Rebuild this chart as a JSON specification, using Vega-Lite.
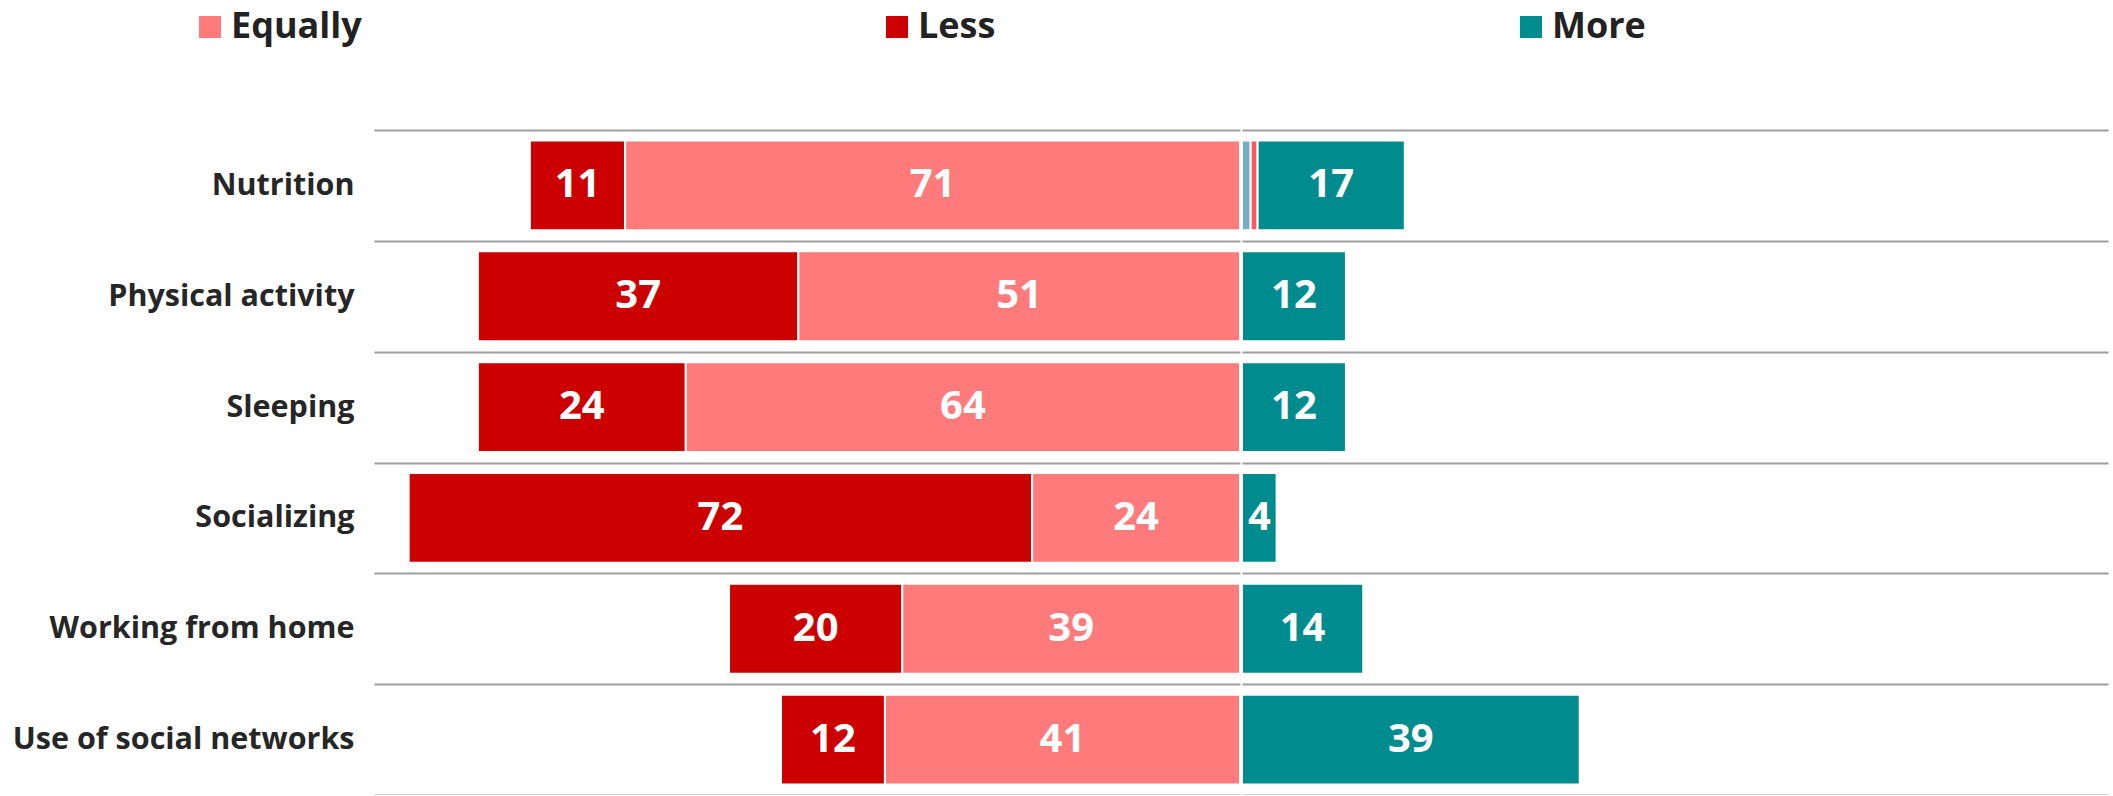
{
  "$schema": "https://vega.github.io/schema/vega-lite/v6.json",
  "padding": {"left": 12, "top": 9, "right": 5, "bottom": 0},
  "background": "white",
  "data": {
    "values": [
      {"category": "Nutrition", "series": "Less", "value": 11},
      {"category": "Nutrition", "series": "Equally", "value": 71},
      {"category": "Nutrition", "series": "Don't know", "value": 1},
      {"category": "Nutrition", "series": "Missing", "value": 0.8},
      {"category": "Nutrition", "series": "More", "value": 17},
      {"category": "Physical activity", "series": "Less", "value": 37},
      {"category": "Physical activity", "series": "Equally", "value": 51},
      {"category": "Physical activity", "series": "More", "value": 12},
      {"category": "Sleeping", "series": "Less", "value": 24},
      {"category": "Sleeping", "series": "Equally", "value": 64},
      {"category": "Sleeping", "series": "More", "value": 12},
      {"category": "Socializing", "series": "Less", "value": 72},
      {"category": "Socializing", "series": "Equally", "value": 24},
      {"category": "Socializing", "series": "More", "value": 4},
      {"category": "Working from home", "series": "Less", "value": 20},
      {"category": "Working from home", "series": "Equally", "value": 39},
      {"category": "Working from home", "series": "More", "value": 14},
      {"category": "Use of social networks", "series": "Less", "value": 12},
      {"category": "Use of social networks", "series": "Equally", "value": 41},
      {"category": "Use of social networks", "series": "More", "value": 39}
    ]
  },
  "spacing": 0,
  "resolve": {"scale": {"color": "shared"}, "legend": {"color": "shared"}},
  "hconcat": [
    {
      "width": 866,
      "height": 665,
      "transform": [
        {"filter": {"field": "series", "oneOf": ["Less", "Equally"]}},
        {"stack": "value", "groupby": ["category"], "sort": [{"field": "series", "order": "ascending"}], "as": ["v0", "v1"]},
        {"calculate": "(datum.v0 + datum.v1) / 2", "as": "vm"}
      ],
      "encoding": {
        "y": {
          "field": "category",
          "type": "nominal",
          "sort": ["Nutrition", "Physical activity", "Sleeping", "Socializing", "Working from home", "Use of social networks"],
          "scale": {"paddingInner": 0, "paddingOuter": 0},
          "axis": {
            "title": null, "ticks": false, "domain": false, "labelPadding": 20, "labelLimit": 0,
            "grid": true, "tickBand": "extent", "gridColor": "#9e9e9e", "gridWidth": 2,
            "labelFont": "Open Sans", "labelFontWeight": "bold", "labelFontSize": 30.5, "labelColor": "#262626"
          }
        }
      },
      "layer": [
        {
          "mark": {"type": "bar", "stroke": "white", "strokeWidth": 2, "height": {"band": 0.81}},
          "encoding": {
            "x": {"field": "v0", "type": "quantitative", "scale": {"domain": [0, 100], "reverse": true, "nice": false, "zero": true}, "axis": null},
            "x2": {"field": "v1"},
            "color": {
              "field": "series", "type": "nominal",
              "scale": {"domain": ["Equally", "Less", "More", "Don't know", "Missing"], "range": ["#FF7B7B", "#CC0000", "#008B8F", "#72AEC8", "#FF5A5F"]},
              "legend": {
                "values": ["Equally", "Less", "More"],
                "orient": "none", "legendX": -182, "legendY": -121, "direction": "horizontal",
                "title": null, "symbolType": "square", "symbolSize": 484, "symbolStrokeWidth": 0, "symbolOpacity": 1,
                "labelFont": "Open Sans", "labelFontWeight": "bold", "labelFontSize": 36, "labelColor": "#222222",
                "labelOffset": 3, "columnPadding": 517
              }
            }
          }
        },
        {
          "mark": {"type": "text", "color": "white", "font": "Open Sans", "fontWeight": "bold", "fontSize": 40, "align": "center", "baseline": "middle"},
          "encoding": {
            "x": {"field": "vm", "type": "quantitative"},
            "text": {"field": "value", "type": "quantitative"}
          }
        }
      ]
    },
    {
      "width": 866,
      "height": 665,
      "transform": [
        {"filter": {"field": "series", "oneOf": ["Don't know", "Missing", "More"]}},
        {"stack": "value", "groupby": ["category"], "sort": [{"field": "series", "order": "ascending"}], "as": ["v0", "v1"]},
        {"calculate": "(datum.v0 + datum.v1) / 2", "as": "vm"}
      ],
      "encoding": {
        "y": {
          "field": "category",
          "type": "nominal",
          "sort": ["Nutrition", "Physical activity", "Sleeping", "Socializing", "Working from home", "Use of social networks"],
          "scale": {"paddingInner": 0, "paddingOuter": 0},
          "axis": {
            "title": null, "ticks": false, "domain": false, "labels": false, "labelPadding": 0,
            "grid": true, "tickBand": "extent", "gridColor": "#9e9e9e", "gridWidth": 2
          }
        }
      },
      "layer": [
        {
          "mark": {"type": "bar", "stroke": "white", "strokeWidth": 2, "height": {"band": 0.81}},
          "encoding": {
            "x": {"field": "v0", "type": "quantitative", "scale": {"domain": [0, 100], "nice": false, "zero": true}, "axis": null},
            "x2": {"field": "v1"},
            "color": {"field": "series", "type": "nominal"}
          }
        },
        {
          "transform": [{"filter": {"field": "series", "equal": "More"}}],
          "mark": {"type": "text", "color": "white", "font": "Open Sans", "fontWeight": "bold", "fontSize": 40, "align": "center", "baseline": "middle"},
          "encoding": {
            "x": {"field": "vm", "type": "quantitative"},
            "text": {"field": "value", "type": "quantitative"}
          }
        }
      ]
    }
  ],
  "config": {
    "view": {"stroke": null},
    "font": "Open Sans"
  }
}
